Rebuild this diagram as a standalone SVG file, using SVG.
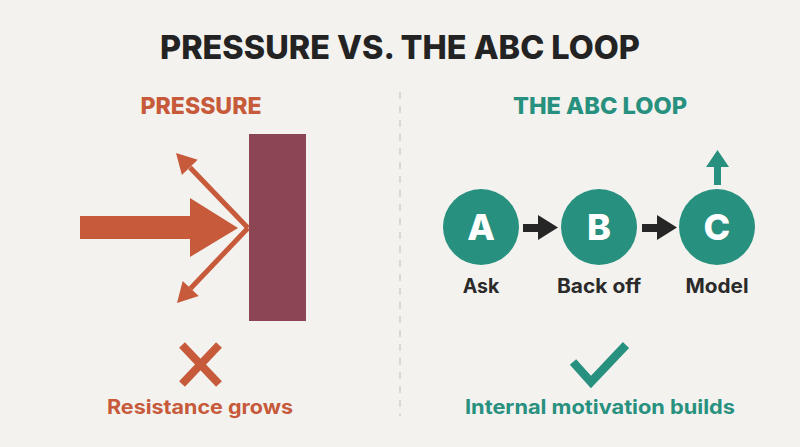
<svg xmlns="http://www.w3.org/2000/svg" width="800" height="447" viewBox="0 0 800 447">
<style>
.title{font-family:Inter,"Liberation Sans",sans-serif;font-weight:800;fill:#232323}
.sub{font-family:Inter,"Liberation Sans",sans-serif;font-weight:800}
.lbl{font-family:Inter,"Liberation Sans",sans-serif;font-weight:700;fill:#2a2a2a;font-size:19.5px}
.letter{font-family:Inter,"Liberation Sans",sans-serif;font-weight:800;fill:#ffffff;font-size:36px}
.bot{font-family:Inter,"Liberation Sans",sans-serif;font-weight:700;font-size:20px}
.orange{fill:#c65a3a}
.teal{fill:#27907f}
.circ{fill:#27907f}
.defl{stroke:#c65a3a;stroke-width:5;fill:none}
</style>
<rect width="800" height="447" fill="#f3f2ee"/>
<text class="title" x="400" y="59" font-size="33" text-anchor="middle" textLength="480" lengthAdjust="spacingAndGlyphs">PRESSURE VS. THE ABC LOOP</text>
<line x1="400" y1="92" x2="400" y2="416" stroke="#d0cfcb" stroke-width="1.5" stroke-dasharray="7 7"/>
<text class="sub orange" x="201" y="114" font-size="23" text-anchor="middle" textLength="121" lengthAdjust="spacingAndGlyphs">PRESSURE</text>
<text class="sub teal" x="600" y="114" font-size="23" text-anchor="middle" textLength="174" lengthAdjust="spacingAndGlyphs">THE ABC LOOP</text>

<g id="wall"><rect x="249" y="134" width="57" height="187" fill="#8b4553"/></g>
<g id="pressure-arrow"><polygon points="80,216 190,216 190,198 238,228 190,257 190,239 80,239" fill="#c65a3a"/></g>

<g id="connectors">
<path class="defl" d="M248,228 L190,167.5"/>
<polygon points="176,153 197.7,159.8 181.9,175" fill="#c65a3a"/>
<path class="defl" d="M248,228 L190.5,288.5"/>
<polygon points="177,303 198.7,296.1 182.7,280.9" fill="#c65a3a"/>
<polygon points="523,224 538,224 538,215 558,227.5 538,240 538,232 523,232" fill="#262626"/>
<polygon points="642,224 657,224 657,215 677,227.5 657,240 657,232 642,232" fill="#262626"/>
<polygon points="714,185 721,185 721,167 729,167 717.5,150 706,167 714,167" fill="#27907f"/>
</g>

<g id="node-a"><circle class="circ" cx="481" cy="227" r="38"/><text class="letter" x="481" y="240" text-anchor="middle">A</text><text class="lbl" x="481" y="293" text-anchor="middle">Ask</text></g>
<g id="node-b"><circle class="circ" cx="599" cy="227" r="38"/><text class="letter" x="599" y="240" text-anchor="middle">B</text><text class="lbl" x="599" y="293" text-anchor="middle" textLength="84" lengthAdjust="spacingAndGlyphs">Back off</text></g>
<g id="node-c"><circle class="circ" cx="717" cy="227" r="38"/><text class="letter" x="717" y="240" text-anchor="middle">C</text><text class="lbl" x="717" y="293" text-anchor="middle" textLength="63" lengthAdjust="spacingAndGlyphs">Model</text></g>

<g id="cross"><path d="M182,345 L219,384 M219,345 L182,384" stroke="#c65a3a" stroke-width="8" fill="none"/></g>
<g id="check"><path d="M573,362 L591,382 L626,345" stroke="#27907f" stroke-width="8.5" fill="none"/></g>
<text class="bot orange" x="200" y="414" text-anchor="middle" textLength="186" lengthAdjust="spacingAndGlyphs">Resistance grows</text>
<text class="bot teal" x="600" y="414" text-anchor="middle" textLength="270" lengthAdjust="spacingAndGlyphs">Internal motivation builds</text>
</svg>
